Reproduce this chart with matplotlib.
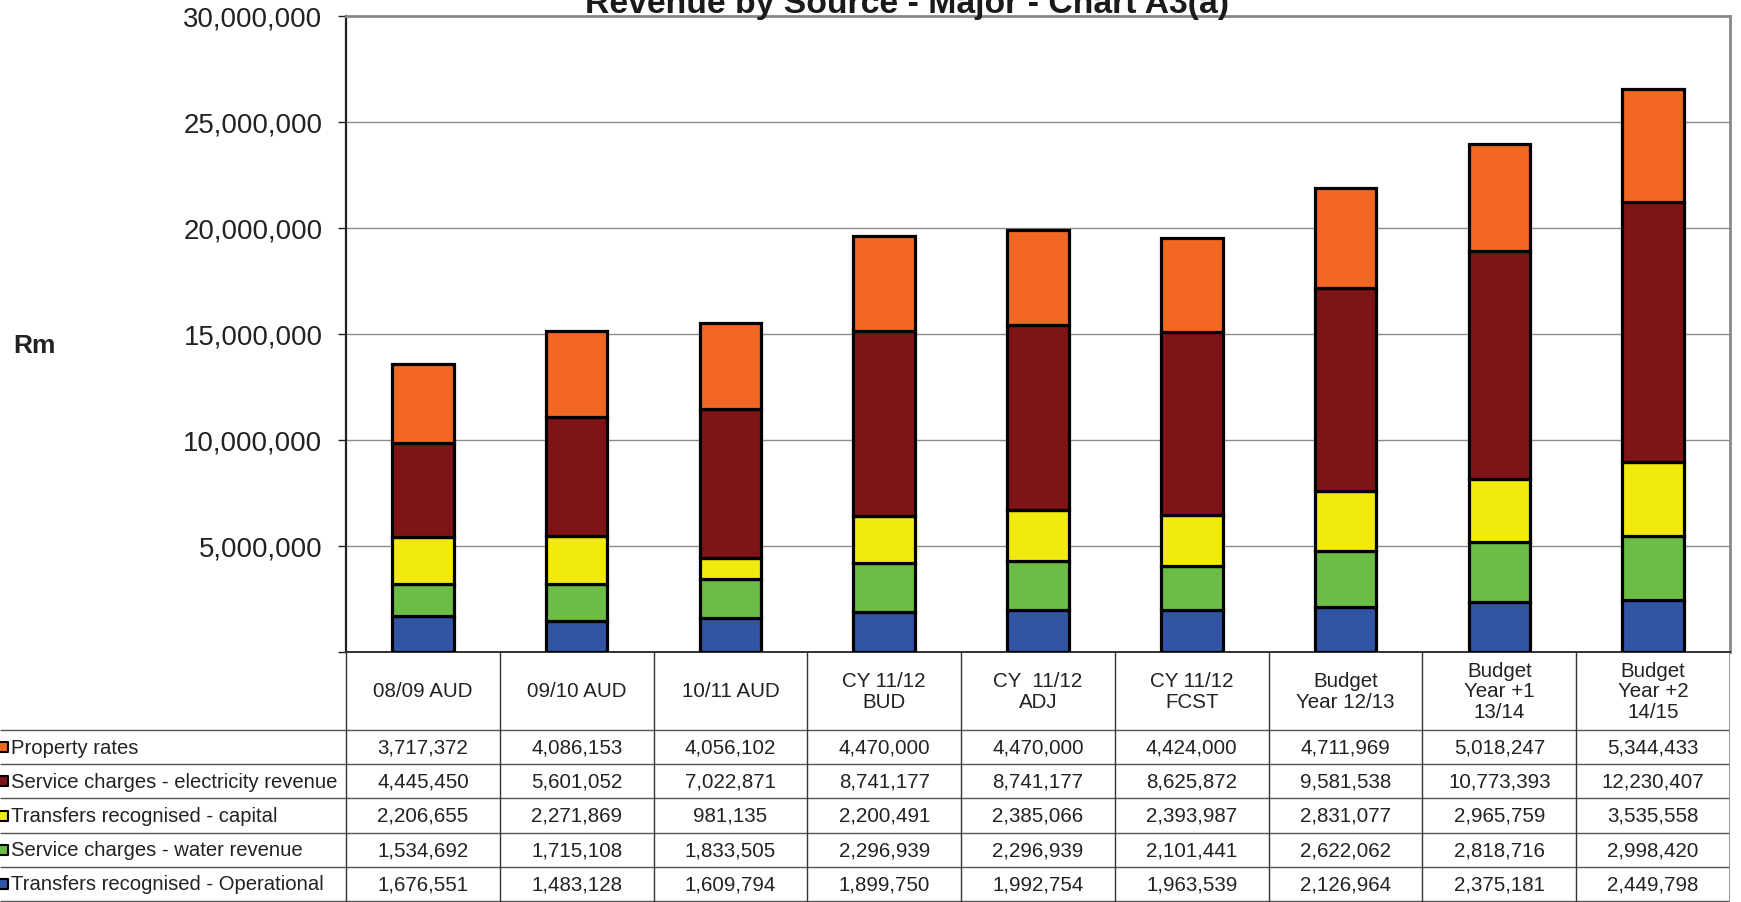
import numpy as np
import matplotlib
matplotlib.use("Agg")
import matplotlib.pyplot as plt
from matplotlib.ticker import FuncFormatter

plt.rcParams["font.family"] = ["Liberation Sans", "DejaVu Sans"]

# categories (table header) and series, bottom of stack first
categories = ["08/09 AUD", "09/10 AUD", "10/11 AUD", "CY 11/12\nBUD", "CY  11/12\nADJ",
              "CY 11/12\nFCST", "Budget\nYear 12/13", "Budget\nYear +1\n13/14", "Budget\nYear +2\n14/15"]
operational = [1676551, 1483128, 1609794, 1899750, 1992754, 1963539, 2126964, 2375181, 2449798]
water = [1534692, 1715108, 1833505, 2296939, 2296939, 2101441, 2622062, 2818716, 2998420]
capital = [2206655, 2271869, 981135, 2200491, 2385066, 2393987, 2831077, 2965759, 3535558]
electricity = [4445450, 5601052, 7022871, 8741177, 8741177, 8625872, 9581538, 10773393, 12230407]
property_rates = [3717372, 4086153, 4056102, 4470000, 4470000, 4424000, 4711969, 5018247, 5344433]

series = [
    ("Transfers recognised - Operational", operational, "#3155a4"),
    ("Service charges - water revenue", water, "#6cbd45"),
    ("Transfers recognised - capital", capital, "#f2e90f"),
    ("Service charges - electricity revenue", electricity, "#7f1416"),
    ("Property rates", property_rates, "#f26822"),
]
y_ticks = [0, 5000000, 10000000, 15000000, 20000000, 25000000, 30000000]

W, H = 1741, 903
fig = plt.figure(figsize=(W / 100, H / 100), dpi=100)

# plot area in pixels
L, R, T, B = 346, 1730, 17, 653
ax = fig.add_axes([L / W, 1 - B / H, (R - L) / W, (B - T) / H])
x = np.arange(len(categories))
bottom = np.zeros(len(categories))
for name, vals, col in series:
    ax.bar(x, vals, 0.40, bottom=bottom, color=col, edgecolor="black", linewidth=2.3, zorder=3)
    bottom += np.array(vals)

ax.set_xlim(-0.5, len(categories) - 0.5)
ax.set_ylim(0, 30000000)
ax.set_yticks(y_ticks)
ax.yaxis.set_major_formatter(FuncFormatter(lambda v, p: "" if v == 0 else f"{int(v):,}"))
ax.tick_params(axis="y", labelsize=19.9, length=6, width=1, pad=11, colors="#222222")
ax.set_xticks([])
ax.grid(axis="y", color="#8c8c8c", lw=1)
ax.set_axisbelow(True)
ax.spines["top"].set_color("#888888"); ax.spines["top"].set_linewidth(2.0)
ax.spines["right"].set_color("#888888"); ax.spines["right"].set_linewidth(2.0)
ax.spines["left"].set_color("#222222"); ax.spines["left"].set_linewidth(1.6)
ax.spines["bottom"].set_color("#222222"); ax.spines["bottom"].set_linewidth(1.3)

fig.text(907 / W, 1 - 12.7 / H, "Revenue by Source - Major - Chart A3(a)", ha="center", va="baseline",
         fontsize=24.3, fontweight="bold", color="#1a1a1a")
fig.text(13 / W, 1 - 346 / H, "Rm", ha="left", va="center", fontsize=19, fontweight="bold", color="#222222")

# data table under the plot, sharing category x positions
unit = (R - L) / len(categories)
x0 = -0.5 - L / unit
tax = fig.add_axes([0, 0, R / W, (H - B) / H])
tax.set_xlim(x0, len(categories) - 0.5)
tax.set_ylim(H - B, 0)
tax.axis("off")

head_h = 78
row_h = 34.2
n_rows = len(series)
for i, lab in enumerate(categories):
    tax.text(i, head_h / 2, lab, ha="center", va="center", fontsize=14.8, linespacing=1.12, color="#222222")

rows = list(reversed(series))
for r, (name, vals, col) in enumerate(rows):
    yc = head_h + row_h * (r + 0.5)
    tax.scatter([x0 + 3 / unit], [yc], marker="s", s=55, color=col, edgecolor="black", linewidth=1.5, clip_on=False)
    tax.text(x0 + 11 / unit, yc, name, ha="left", va="center", fontsize=14.6, color="#222222")
    for i, v in enumerate(vals):
        tax.text(i, yc, f"{v:,}", ha="center", va="center", fontsize=14.8, color="#222222")

row_lines = [head_h + row_h * k for k in range(n_rows + 1)]
tax.hlines(row_lines, x0, len(categories) - 0.5, color="#555555", lw=1)
tax.vlines(np.arange(len(categories)) - 0.5, 0, row_lines[-1], color="#333333", lw=1)
tax.vlines([len(categories) - 0.5], 0, row_lines[-1], color="#888888", lw=2)

fig.savefig("out.png", dpi=100)
